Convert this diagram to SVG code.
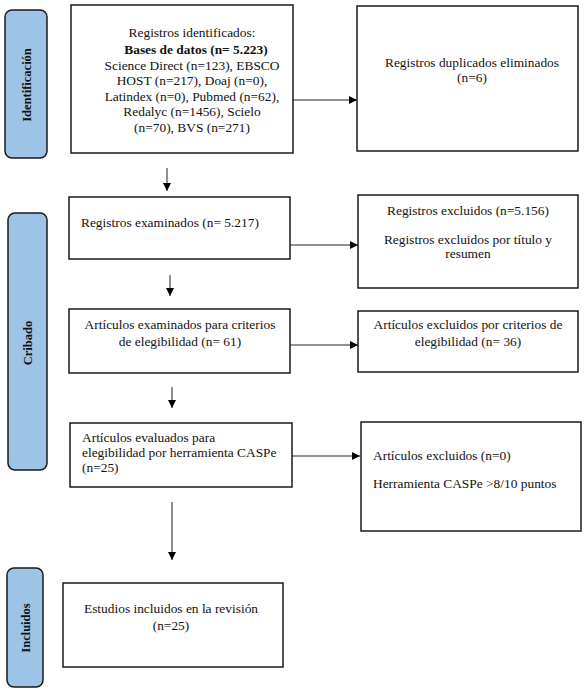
<svg xmlns="http://www.w3.org/2000/svg" width="586" height="691" viewBox="0 0 586 691">
<defs>
<marker id="ah" markerWidth="8" markerHeight="8" refX="8" refY="4" orient="auto" markerUnits="userSpaceOnUse">
<path d="M0,0 L8,4 L0,8 Z" fill="#000"/>
</marker>
<style>
.box{fill:#fff;stroke:#1a1a1a;stroke-width:1.5}
.tab{fill:#9dc3e6;stroke:#1a1a1a;stroke-width:1.5}
.t{font-family:"Liberation Serif","Times New Roman",serif;font-size:13.4px;fill:#111}
.c{text-anchor:middle}
.b{font-weight:bold}
.tl{font-family:"Liberation Serif","Times New Roman",serif;font-size:12.5px;font-weight:bold;fill:#111;text-anchor:middle}
.ln{fill:none;stroke:#222;stroke-width:1;marker-end:url(#ah)}
</style>
</defs>
<rect width="586" height="691" fill="#fff"/>
<g id="tab-identificacion">
<rect class="tab" x="5" y="10" width="42" height="148" rx="7"/>
<text class="tl" transform="translate(31,85) rotate(-90)">Identificación</text>
</g>
<g id="tab-cribado">
<rect class="tab" x="8" y="213" width="39" height="257" rx="7"/>
<text class="tl" transform="translate(32,343) rotate(-90)">Cribado</text>
</g>
<g id="tab-incluidos">
<rect class="tab" x="7" y="568" width="36" height="119" rx="7"/>
<text class="tl" transform="translate(30,628) rotate(-90)">Incluidos</text>
</g>
<g id="n1">
<rect class="box" x="71" y="5" width="222" height="148"/>
<text class="t c" x="192" y="37">Registros identificados:</text>
<text class="t c b" x="196" y="54">Bases de datos (n= 5.223)</text>
<text class="t c" x="192" y="70">Science Direct (n=123), EBSCO</text>
<text class="t c" x="192" y="85">HOST (n=217), Doaj (n=0),</text>
<text class="t c" x="192" y="101">Latindex (n=0), Pubmed (n=62),</text>
<text class="t c" x="192" y="116">Redalyc (n=1456), Scielo</text>
<text class="t c" x="192" y="132">(n=70), BVS (n=271)</text>
</g>
<g id="n2">
<rect class="box" x="357" y="6" width="221" height="145"/>
<text class="t c" x="472" y="67">Registros duplicados eliminados</text>
<text class="t c" x="472" y="82">(n=6)</text>
</g>
<g id="n3">
<rect class="box" x="69" y="197" width="221" height="62"/>
<text class="t" x="81" y="227">Registros examinados (n= 5.217)</text>
</g>
<g id="n4">
<rect class="box" x="358" y="195" width="220" height="93"/>
<text class="t c" x="468" y="215">Registros excluidos (n=5.156)</text>
<text class="t c" x="468" y="244">Registros excluidos por título y</text>
<text class="t c" x="468" y="258">resumen</text>
</g>
<g id="n5">
<rect class="box" x="69" y="309" width="221" height="64"/>
<text class="t c" x="180" y="329">Artículos examinados para criterios</text>
<text class="t c" x="180" y="346">de elegibilidad (n= 61)</text>
</g>
<g id="n6">
<rect class="box" x="358" y="311" width="220" height="61"/>
<text class="t c" x="468" y="329">Artículos excluidos por criterios de</text>
<text class="t c" x="468" y="346">elegibilidad (n= 36)</text>
</g>
<g id="n7">
<rect class="box" x="70" y="423" width="222" height="64"/>
<text class="t" x="82" y="442">Artículos evaluados para</text>
<text class="t" x="82" y="457">elegibilidad por herramienta CASPe</text>
<text class="t" x="82" y="472">(n=25)</text>
</g>
<g id="n8">
<rect class="box" x="361" y="422" width="220" height="109"/>
<text class="t" x="373" y="460">Artículos excluidos (n=0)</text>
<text class="t" x="373" y="488">Herramienta CASPe &gt;8/10 puntos</text>
</g>
<g id="n9">
<rect class="box" x="63" y="583" width="220" height="84"/>
<text class="t c" x="171" y="613">Estudios incluidos en la revisión</text>
<text class="t c" x="171" y="630">(n=25)</text>
</g>
<g id="connectors">
<line class="ln" x1="293" y1="100" x2="357" y2="100"/>
<line class="ln" x1="167" y1="168" x2="167" y2="191"/>
<line class="ln" x1="290" y1="245" x2="358" y2="245"/>
<line class="ln" x1="170" y1="275" x2="170" y2="296"/>
<line class="ln" x1="290" y1="345" x2="358" y2="345"/>
<line class="ln" x1="172" y1="387" x2="172" y2="408"/>
<line class="ln" x1="292" y1="456" x2="360" y2="456"/>
<line class="ln" x1="172" y1="502" x2="172" y2="560"/>
</g>
</svg>
